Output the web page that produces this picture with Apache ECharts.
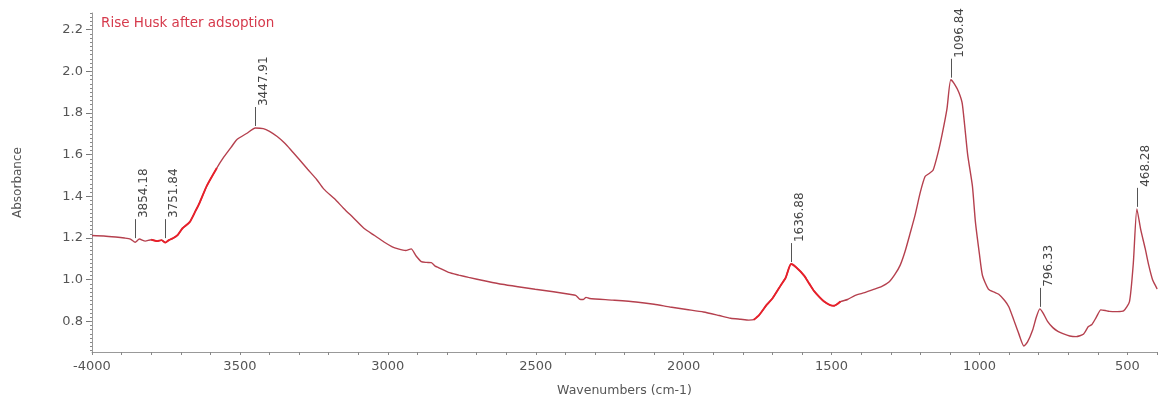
<!DOCTYPE html>
<html>
<head>
<meta charset="utf-8">
<script src="https://cdn.jsdelivr.net/npm/echarts@6/dist/echarts.min.js"></script>
<style>html,body{margin:0;padding:0;background:#fff;}#c{width:1158px;height:402px;}</style>
</head>
<body>
<div id="c"></div>
<script>
// ---- data ----
var titleText = 'Rise Husk after adsoption';
var waveNumbers = [4000,3960,3920,3890,3870,3854,3840,3820,3800,3780,3765,3752,3740,3725,3710,3694,3670,3650,3636,3612,3578,3557,3530,3510,3476,3448,3421,3400,3374,3350,3329,3300,3271,3240,3217,3180,3149,3115,3081,3045,3013,2985,2965,2940,2921,2905,2887,2870,2853,2840,2829,2795,2760,2727,2670,2614,2560,2502,2440,2386,2365,2352,2340,2330,2318,2240,2161,2100,2046,1990,1933,1880,1841,1807,1780,1763,1745,1719,1700,1671,1655,1637,1620,1593,1575,1559,1540,1525,1505,1491,1470,1446,1420,1388,1360,1330,1305,1286,1268,1252,1235,1218,1200,1184,1170,1157,1140,1126,1110,1097,1085,1070,1058,1040,1024,1014,1000,990,970,950,935,915,901,885,867,850,838,820,808,796,785,770,752,735,718,695,673,649,632,620,605,590,575,561,535,513,493,480,468,455,440,428,415,401,400];
var absorbance  = [1.212,1.210,1.205,1.200,1.195,1.180,1.195,1.185,1.192,1.185,1.190,1.178,1.190,1.200,1.215,1.247,1.276,1.330,1.370,1.450,1.536,1.583,1.635,1.673,1.703,1.728,1.725,1.712,1.687,1.657,1.625,1.578,1.530,1.480,1.436,1.388,1.342,1.295,1.247,1.212,1.181,1.158,1.148,1.140,1.148,1.115,1.087,1.083,1.082,1.065,1.058,1.035,1.022,1.011,0.994,0.978,0.966,0.954,0.942,0.930,0.925,0.907,0.905,0.915,0.910,0.902,0.893,0.882,0.869,0.857,0.845,0.828,0.815,0.810,0.806,0.808,0.830,0.880,0.910,0.975,1.010,1.075,1.060,1.020,0.980,0.945,0.915,0.895,0.878,0.875,0.895,0.905,0.925,0.938,0.952,0.968,0.990,1.025,1.070,1.134,1.220,1.309,1.420,1.495,1.510,1.525,1.610,1.700,1.820,1.960,1.940,1.900,1.843,1.600,1.450,1.280,1.120,1.020,0.955,0.940,0.930,0.900,0.870,0.810,0.740,0.682,0.700,0.760,0.820,0.860,0.840,0.800,0.770,0.752,0.741,0.730,0.727,0.738,0.775,0.785,0.820,0.855,0.852,0.848,0.847,0.850,0.895,1.080,1.340,1.240,1.150,1.070,1.000,0.960,0.955];
var peakWavenumbers = [3854.18, 3751.84, 3447.91, 1636.88, 1096.84, 796.33, 468.28];
var peakAbsorbance  = [1.19, 1.19, 1.728, 1.075, 1.96, 0.86, 1.34];
var noisyRanges = [[3560, 3800], [1450, 1770]];
var xTickLabels = [4000, 3500, 3000, 2500, 2000, 1500, 1000, 500];
var yTickLabels = [0.8, 1.0, 1.2, 1.4, 1.6, 1.8, 2.0, 2.2];

var spectrum = waveNumbers.map(function (w, i) { return [w, absorbance[i]]; });
var noisy = spectrum.map(function (p) {
  var inside = noisyRanges.some(function (r) { return p[0] >= r[0] && p[0] <= r[1]; });
  return inside ? p : [p[0], null];
});
var peaks = peakWavenumbers.map(function (w, i) { return [w, peakAbsorbance[i]]; });
var xMinor = []; for (var t = 400; t <= 4000; t += 100) xMinor.push(t);
var yMinor = []; for (var k = 33; k <= 114; k++) yMinor.push(+(k * 0.02).toFixed(2));

var FONT = '"DejaVu Sans", sans-serif';
var chart = echarts.init(document.getElementById('c'), null, {renderer: 'canvas'});
chart.setOption({
  animation: false,
  backgroundColor: '#fff',
  title: {text: titleText, left: 96, top: 11, textStyle: {color: '#d63a4c', fontSize: 13.5, fontWeight: 'normal', fontFamily: FONT}},
  grid: {left: 92, right: 1, top: 13, bottom: 46},
  xAxis: {
    type: 'value', min: 400, max: 4000, inverse: true,
    name: 'Wavenumbers (cm-1)', nameLocation: 'middle', nameGap: 32,
    nameTextStyle: {color: '#555', fontSize: 12.5, fontFamily: FONT},
    axisLine: {show: true, lineStyle: {color: '#999', width: 1}},
    axisTick: {show: true, customValues: xMinor, length: 3, lineStyle: {color: '#888'}},
    axisLabel: {customValues: xTickLabels, color: '#555', fontSize: 13, fontFamily: FONT, margin: 8,
      formatter: function (v) { return v === 4000 ? '-4000' : String(v); }},
    splitLine: {show: false}
  },
  yAxis: [{
    type: 'value', min: 0.653, max: 2.28, position: 'left',
    name: 'Absorbance', nameLocation: 'middle', nameGap: 68,
    nameTextStyle: {color: '#555', fontSize: 12, fontFamily: FONT},
    axisLine: {show: true, lineStyle: {color: '#999', width: 1}},
    axisTick: {show: true, customValues: yTickLabels, length: 6, lineStyle: {color: '#777'}},
    axisLabel: {customValues: yTickLabels, color: '#555', fontSize: 13, fontFamily: FONT, margin: 9,
      formatter: function (v) { return v.toFixed(1); }},
    splitLine: {show: false}
  }, {
    type: 'value', min: 0.653, max: 2.28, position: 'left',
    axisLine: {show: false},
    axisTick: {show: true, customValues: yMinor, length: 2, lineStyle: {color: '#888'}},
    axisLabel: {show: false}, splitLine: {show: false}
  }],
  series: [{
    type: 'line', data: spectrum, showSymbol: false, symbol: 'none', smooth: 0.2,
    lineStyle: {width: 1.4, color: '#b5404e'}
  }, {
    type: 'line', data: noisy, showSymbol: false, symbol: 'none', smooth: 0.2, connectNulls: false,
    lineStyle: {width: 1.9, color: '#e8202a'}, z: 3
  }, {
    type: 'custom', data: peaks, clip: false, z: 5,
    renderItem: function (params, api) {
      var p = api.coord([api.value(0), api.value(1)]);
      var x = Math.round(p[0]) + 0.5, y0 = p[1] - 2, y1 = y0 - 19;
      return {type: 'group', children: [
        {type: 'line', shape: {x1: x, y1: y0, x2: x, y2: y1}, style: {stroke: '#555', lineWidth: 1}},
        {type: 'text', x: x + 8, y: y1 - 1, rotation: Math.PI / 2,
          style: {text: peakWavenumbers[params.dataIndex].toFixed(2), fill: '#444', font: '12px ' + FONT, align: 'left', verticalAlign: 'middle'}}
      ]};
    }
  }]
});
</script>
</body>
</html>
